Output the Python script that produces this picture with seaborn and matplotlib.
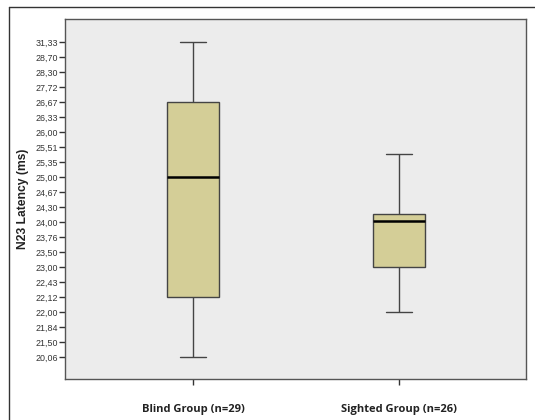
import numpy as np
import pandas as pd
import seaborn as sns
import matplotlib.pyplot as plt
from matplotlib.lines import Line2D

groups = ["Blind Group (n=29)", "Sighted Group (n=26)"]
# SPSS drew the axis with one evenly spaced tick per observed value
tick_values = [20.06, 21.50, 21.84, 22.00, 22.12, 22.43, 23.00, 23.50, 23.76, 24.00, 24.30,
               24.67, 25.00, 25.35, 25.51, 26.00, 26.33, 26.67, 27.72, 28.30, 28.70, 31.33]
# min, Q1, median, Q3, max
blind_stats = [20.06, 22.12, 25.00, 26.67, 31.33]
sighted_stats = [22.00, 23.00, 24.03, 24.165, 25.44]

ranks = np.arange(len(tick_values))
def to_rank(vals):
    return np.interp(vals, tick_values, ranks)

df = pd.DataFrame({
    "group": [groups[0]] * 5 + [groups[1]] * 5,
    "pos": np.concatenate([to_rank(blind_stats), to_rank(sighted_stats)]),
})

sns.set_style("white")
plt.rcParams['font.family'] = ['Liberation Sans', 'DejaVu Sans']

fig = plt.figure(figsize=(5.35, 4.2), dpi=100)
ax = fig.add_axes([65 / 535, 1 - 379 / 420, 460.5 / 535, 359.7 / 420])
ax.set_facecolor("#ececec")

sns.boxplot(data=df, x="group", y="pos", ax=ax, width=0.25, whis=np.inf,
            color="#d4ce97", saturation=1, linecolor="#444444", linewidth=1,
            medianprops=dict(color="black", linewidth=1.8))

ax.set_xlim(-0.621, 1.614)
ax.set_ylim(-1.45, 22.53)
ax.set_yticks(ranks)
ax.set_yticklabels([f"{v:.2f}".replace(".", ",") for v in tick_values],
                   fontsize=6.4, color="#333333")
ax.set_xticks([0, 1])
ax.set_xticklabels(groups, fontsize=8, fontweight="bold", family=["Open Sans", "DejaVu Sans"],
                   color="#222222")
ax.tick_params(axis="y", length=4, width=1, color="#333333", pad=1, left=True)
ax.tick_params(axis="x", length=4, width=1, color="#333333", pad=14, bottom=True)
ax.set_xlabel("")
ax.set_ylabel("N23 Latency (ms)", fontsize=8.7, fontweight="bold", color="#222222", labelpad=5)

for s in ax.spines.values():
    s.set_color("#555555")
    s.set_linewidth(1)

# outer frame (left and top edges visible)
fig.add_artist(Line2D([9 / 535, 9 / 535], [0, 1 - 7.3 / 420], color="#333333", lw=1))
fig.add_artist(Line2D([9 / 535, 1], [1 - 7.3 / 420, 1 - 7.3 / 420], color="#333333", lw=1))

fig.savefig("out.png", dpi=100)
